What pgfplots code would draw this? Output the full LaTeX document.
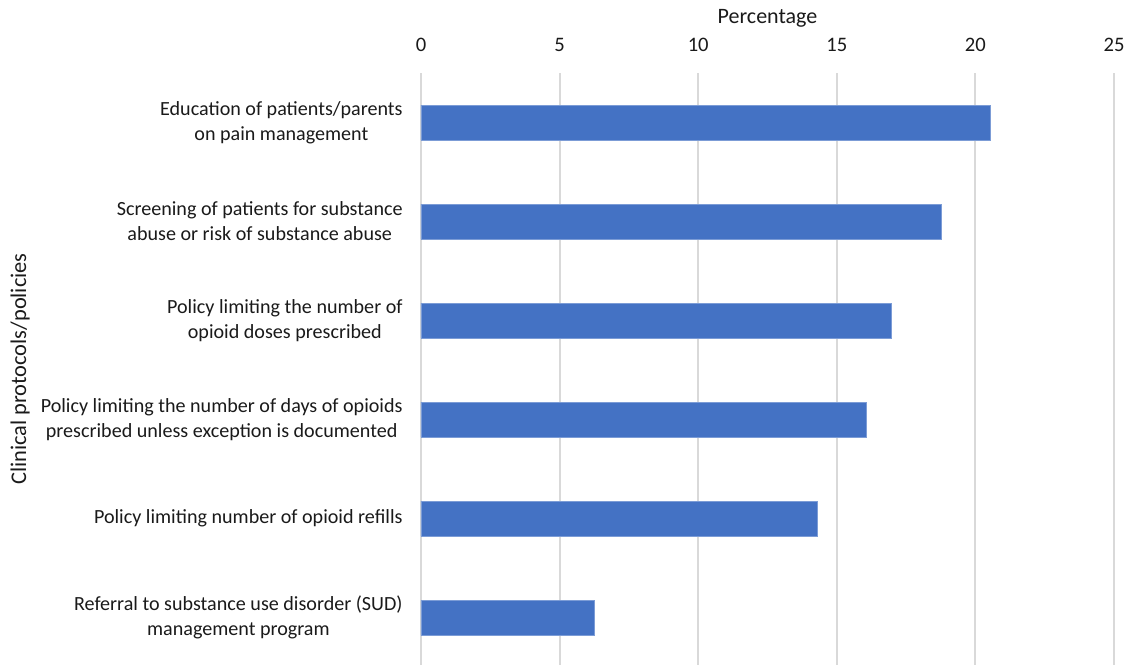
\documentclass[border=0pt]{standalone}
\usepackage{pgfplots}
\pgfplotsset{compat=1.18}
\usepackage{fontspec}
\setmainfont{Carlito}
\definecolor{barblue}{HTML}{4472C4}
\definecolor{gridgray}{HTML}{D9D9D9}
\definecolor{txt}{HTML}{1A1A1A}
\begin{document}
\begin{tikzpicture}
\path[use as bounding box] (0,0) rectangle (564.5pt,332.5pt);
\begin{axis}[
  at={(210.5pt,0pt)}, anchor=south west,
  scale only axis,
  width=346.5pt, height=296pt,
  xbar, bar width=17.5pt,
  xmin=0, xmax=25,
  ymin=-0.5, ymax=5.477,
  y dir=reverse,
  axis line style={draw=none},
  xtick={0,5,10,15,20,25},
  ytick={0,1,2,3,4,5},
  yticklabels={{Education of patients/parents\\on pain management},
               {Screening of patients for substance\\abuse or risk of substance abuse},
               {Policy limiting the number of\\opioid doses prescribed},
               {Policy limiting the number of days of opioids\\prescribed unless exception is documented},
               {Policy limiting number of opioid refills},
               {Referral to substance use disorder (SUD)\\management program}},
  major tick length=0pt,
  xmajorgrids, major grid style={gridgray, line width=1pt},
  xticklabel pos=upper,
  /pgf/number format/assume math mode=true,
  xticklabel style={font=\fontsize{10.3}{12.5}\selectfont, text=txt, anchor=center, inner sep=0pt, yshift=14pt},
  yticklabel style={font=\fontsize{10.05}{12.5}\selectfont, text=txt, align=center, anchor=east, inner sep=0pt, xshift=-9pt},
  xlabel={Percentage},
  xlabel style={font=\fontsize{11}{13}\selectfont, text=txt, at={(axis description cs:0.5,1)}, anchor=center, yshift=27.5pt},
  ylabel={Clinical protocols/policies},
  ylabel style={font=\fontsize{11.2}{13}\selectfont, text=txt, at={(axis description cs:-0.5786,0.5)}, anchor=center},
  clip=false,
]
\addplot[fill=barblue, draw=barblue!70!white, line width=0.4pt] coordinates {
  (20.55,0) (18.77,1) (16.97,2) (16.07,3) (14.29,4) (6.24,5)
};
\end{axis}
\end{tikzpicture}
\end{document}
